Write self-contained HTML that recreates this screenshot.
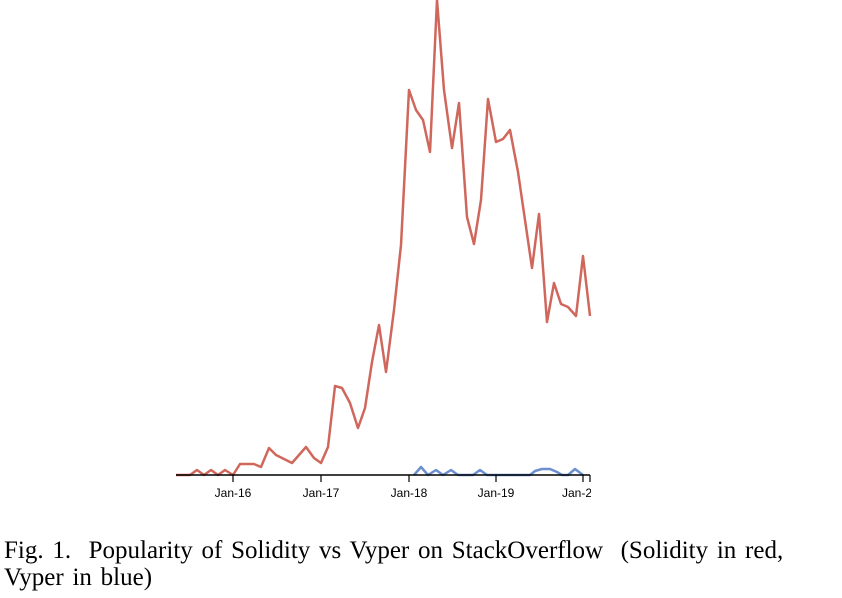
<!DOCTYPE html>
<html><head><style>
body{margin:0;width:842px;height:598px;background:#fff;overflow:hidden;position:relative}
svg{position:absolute;left:0;top:0}
.cap{position:absolute;left:4px;font-family:"Liberation Serif","DejaVu Serif",serif;font-size:25px;color:#000;white-space:pre;line-height:1}
</style></head><body>
<svg width="842" height="598">
<polyline fill="none" stroke="#d0675c" stroke-width="2.5" stroke-linejoin="round" points="176,475 190,475 197,470 204,475 211,470 218,475 225,470 233,475 240,464 247,464 254,464 261,467 269,448 276,455 284,459 292,463 299,455 306,447 314,458 321,463 328,447 335,386 342,388 350,403 358,428 365,408 372,362 379,325 386,372 394,310 401,245 409,90 416,110 423,120 430,152 437,0 444,90 452,148 459,103 467,217 474,244 481,200 488,99 496,142 503,139 510,130 518,172 525,220 532,268 539,214 547,322 554,283 561,304 568,307 576,316 583,256 590,316"/>
<polyline fill="none" stroke="#6b8fcf" stroke-width="2.5" stroke-linejoin="round" points="414,475 421,467 428,475 436,470 443,475 451,470 458,475 473,475 480,470 487,475 530,475 535,471 542,469 550,469 557,472 562,475 568,475 575,469 583,475"/>
<line x1="176" y1="475" x2="590" y2="475" stroke="#000" stroke-width="1.5"/>
<g stroke="#000" stroke-width="1.2">
<line x1="233" y1="475" x2="233" y2="482"/><line x1="321" y1="475" x2="321" y2="482"/><line x1="409" y1="475" x2="409" y2="482"/><line x1="496" y1="475" x2="496" y2="482"/><line x1="583" y1="475" x2="583" y2="482"/><line x1="590" y1="475" x2="590" y2="482"/>
</g>
<g font-family="Liberation Sans,sans-serif" font-size="12" text-anchor="middle" fill="#000">
<text x="233" y="497">Jan-16</text><text x="321" y="497">Jan-17</text><text x="409" y="497">Jan-18</text><text x="496" y="497">Jan-19</text>
<text x="577" y="497">Jan-2</text>
</g>
<rect x="591" y="485" width="20" height="15" fill="#fff"/>
</svg>
<div class="cap" style="top:538px;word-spacing:2.5px">Fig. 1.  Popularity of Solidity vs Vyper on StackOverflow  (Solidity in red,</div>
<div class="cap" style="top:565px;word-spacing:2.5px">Vyper in blue)</div>
</body></html>
